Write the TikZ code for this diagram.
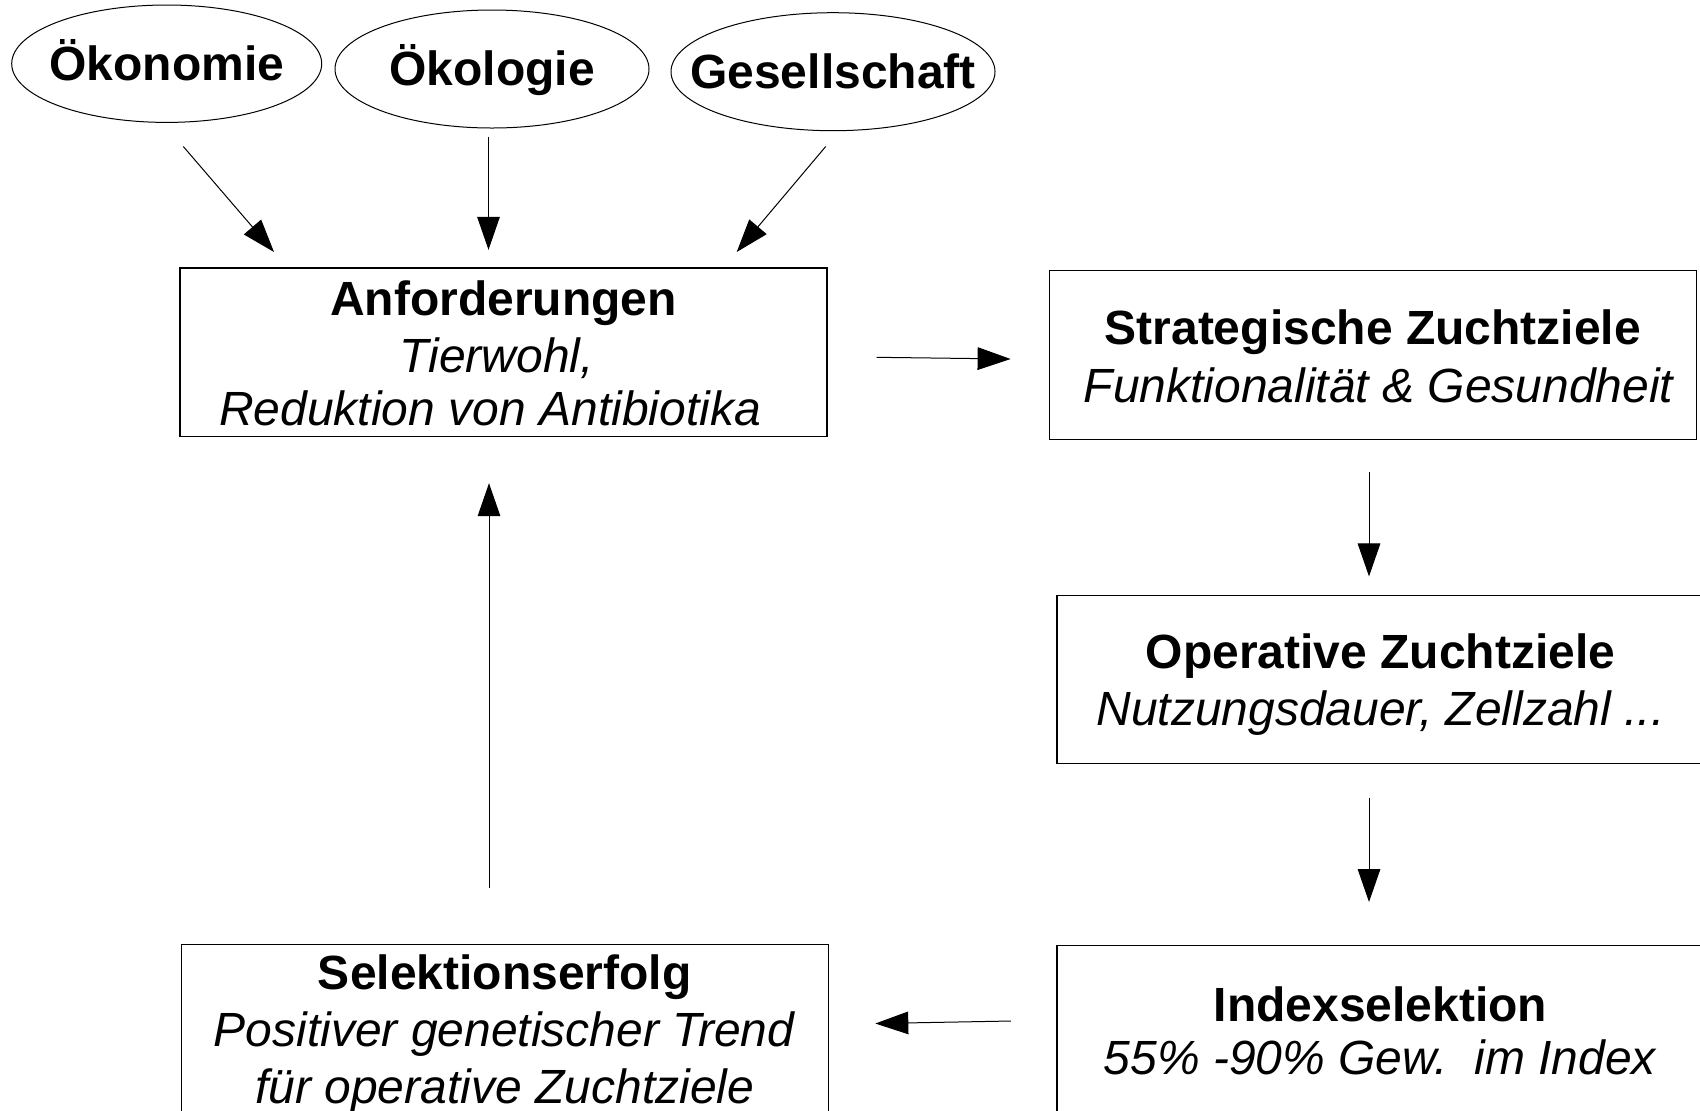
\documentclass[tikz,border=0pt]{standalone}
\usepackage{fontspec}
\setmainfont{Liberation Sans}
\usetikzlibrary{arrows.meta,shapes.geometric,calc}
\newcommand\zzstrut{\rule[-4pt]{0pt}{26.5pt}}
\newcommand\zzt[1]{\zzstrut\textbf{#1}}
\newcommand\zzi[1]{\zzstrut\textit{#1}}
\begin{document}
\begin{tikzpicture}[x=0.5pt,y=-0.5pt,
  every node/.style={font=\fontsize{24}{26.5}\selectfont},
  ell/.style={ellipse,draw,line width=0.5pt,inner xsep=-100pt,inner ysep=-100pt,
    text height=17.5pt,text depth=1pt,font=\fontsize{24}{26.5}\selectfont\bfseries},
  box/.style={rectangle,draw,line width=0.6pt,inner sep=0pt,
    minimum width=323.5pt,minimum height=84.2pt,align=center},
  arr/.style={line width=0.5pt,-{Triangle[length=16.5pt,width=11.3pt]}}
]
\useasboundingbox (0,0) rectangle (1700,1110);

% ellipses
\node[ell,minimum width=155pt,minimum height=58.7pt] (oek) at (166.7,63.7) {Ökonomie};
\node[ell,minimum width=157pt,minimum height=59pt] (okl) at (492,69) {Ökologie};
\node[ell,minimum width=162pt,minimum height=59pt] (ges) at (833,71.7) {Gesellschaft};

% boxes
\node[box] (anf) at (503.4,352.2) {\zzt{Anforderungen}\\\zzi{Tierwohl,\kern0.278em}\\\zzi{Reduktion von Antibiotika\kern0.556em}};
\node[box] (str) at (1372.7,355) {\zzt{Strategische Zuchtziele}\\\zzi{\kern0.278em Funktionalität \& Gesundheit}};
\node[box] (ope) at (1380.5,679.5) {\zzt{Operative Zuchtziele}\\\zzi{Nutzungsdauer, Zellzahl ...}};
\node[box] (idx) at (1380.5,1029.3) {\zzt{Indexselektion}\\\zzi{55\% -90\% Gew.\ \ im Index}};
\node[box] (sel) at (504.7,1029.3) {\zzt{Selektionserfolg}\\\zzi{Positiver genetischer Trend}\\\zzi{für operative Zuchtziele}};

% connectors
\draw[arr] ($(oek.south)+(16.6,23.6)$) -- ($(anf.north)+(-229.4,-15.4)$);
\draw[arr] ($(okl.south)+(-3.5,8)$) -- ($(anf.north)+(-14.9,-17.6)$);
\draw[arr] ($(ges.south)+(-7.3,15.3)$) -- ($(anf.north)+(233.3,-15.4)$);
\draw[arr] ($(anf.east)+(49,5.1)$) -- ($(str.west)+(-38,4)$);
\draw[arr] ($(str.south)+(-3.7,32.6)$) -- ($(ope.north)+(-11.5,-18.3)$);
\draw[arr] ($(ope.south)+(-11.5,33.4)$) -- ($(idx.north)+(-11.5,-42.5)$);
\draw[arr] ($(idx.west)+(-45.5,-8.3)$) -- ($(sel.east)+(46.5,-5.8)$);
\draw[arr] ($(sel.north)+(-15.7,-56.2)$) -- ($(anf.south)+(-14.4,46.2)$);
\end{tikzpicture}
\end{document}
